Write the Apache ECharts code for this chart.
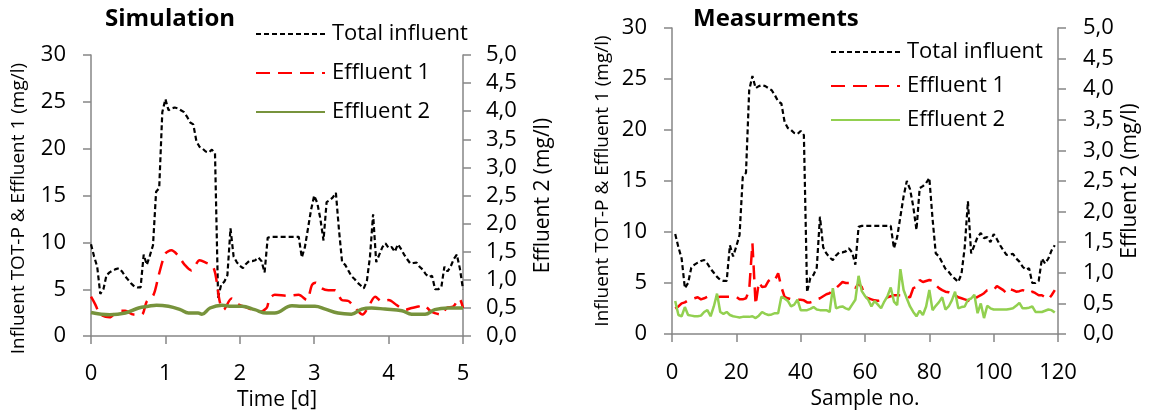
<!DOCTYPE html>
<html>
<head>
<meta charset="utf-8">
<script src="https://cdn.jsdelivr.net/npm/echarts@6/dist/echarts.min.js"></script>
<style>html,body{margin:0;padding:0;background:#fff;}#c{width:1150px;height:416px;}</style>
</head>
<body>
<div id="c"></div>
<script>
// Hourly total influent TOT-P (mg/l), samples 1..119 (shared by simulation input and measurements)
const influentMeas = [
 9.8, 8.5, 7.4, 4.5, 5.0, 6.5, 6.8, 7.0, 7.15, 7.25,
 6.9, 6.4, 6.0, 5.6, 5.3, 5.2, 5.2, 8.7, 7.6, 8.6,
 9.7, 15.4, 15.8, 23.9, 25.3, 24.1, 24.3, 24.4, 24.3, 24.1,
 23.9, 23.4, 22.8, 22.6, 20.8, 20.2, 20.0, 19.7, 19.6, 19.9,
 19.5, 4.1, 5.5, 5.8, 6.5, 11.5, 8.5, 7.9, 7.5, 7.25,
 7.7, 8.0, 8.0, 8.1, 8.4, 8.0, 6.8, 10.5, 10.6, 10.6,
 10.6, 10.6, 10.6, 10.6, 10.6, 10.6, 10.6, 10.6, 8.4, 9.5,
 11.5, 13.5, 15.0, 14.2, 12.5, 10.2, 14.3, 14.5, 14.8, 15.3,
 11.3, 7.9, 7.6, 7.0, 6.4, 6.1, 5.7, 5.4, 5.1, 5.9,
 8.5, 13.0, 7.9, 8.7, 9.5, 9.9, 9.4, 9.5, 9.0, 9.8,
 9.3, 8.7, 8.2, 7.75, 7.8, 7.85, 7.4, 7.1, 6.6, 6.3,
 6.45, 5.0, 5.0, 5.2, 7.4, 6.9, 7.4, 8.2, 8.7
];
// Simulation influent continues past the last sample
const simInfluentTail = [7.2, 5.0];

// Measured effluent 1 (mg/l), samples 1..119
const effluent1Meas = [
 2.5, 2.7, 3.0, 3.1, 3.3, 3.4, 3.5, 3.6, 3.4, 3.5,
 3.65, 3.6, 3.6, 3.6, 3.65, 3.65, 3.65, 3.65, 3.65, 3.65,
 3.4, 3.4, 3.5, 4.3, 8.9, 2.85, 5.1, 4.6, 4.65, 5.2,
 5.45, 5.3, 5.95, 4.6, 3.65, 3.5, 3.4, 3.4, 3.35, 3.35,
 3.3, 3.1, 3.1, 3.2, 3.4, 3.5, 3.7, 3.9, 4.0, 4.3,
 4.5, 4.8, 5.1, 5.0, 5.0, 4.8, 4.5, 4.95, 4.6, 3.65,
 3.5, 3.4, 3.3, 3.25, 3.3, 3.5, 3.6, 3.7, 3.8, 3.8,
 3.8, 3.7, 3.65, 3.6, 4.5, 4.6, 5.3, 5.1, 5.2, 5.3,
 5.2, 4.8, 4.5, 4.3, 4.15, 4.1, 4.0, 3.8, 3.6, 3.5,
 3.4, 3.3, 3.15, 3.4, 3.65, 3.8, 4.0, 4.3, 4.3, 4.3,
 4.7, 4.5, 4.3, 4.0, 4.4, 4.3, 4.15, 4.2, 4.3, 4.2,
 4.0, 4.15, 4.0, 3.8, 3.8, 3.6, 3.4, 3.8, 4.3
];
// Measured effluent 2 (mg/l), samples 1..119
const effluent2Meas = [
 0.54, 0.31, 0.29, 0.44, 0.31, 0.30, 0.29, 0.29, 0.30, 0.36,
 0.39, 0.29, 0.45, 0.66, 0.36, 0.33, 0.36, 0.31, 0.29, 0.28,
 0.27, 0.28, 0.28, 0.28, 0.29, 0.26, 0.30, 0.36, 0.33, 0.31,
 0.32, 0.34, 0.34, 0.61, 0.58, 0.54, 0.45, 0.48, 0.56, 0.39,
 0.39, 0.39, 0.41, 0.44, 0.40, 0.39, 0.39, 0.39, 0.36, 0.75,
 0.42, 0.44, 0.45, 0.42, 0.40, 0.48, 0.56, 0.95, 0.70, 0.62,
 0.56, 0.45, 0.54, 0.48, 0.42, 0.53, 0.62, 0.76, 0.53, 0.47,
 1.06, 0.72, 0.58, 0.45, 0.36, 0.29, 0.38, 0.31, 0.45, 0.72,
 0.39, 0.46, 0.52, 0.60, 0.40, 0.45, 0.55, 0.69, 0.42, 0.44,
 0.45, 0.56, 0.58, 0.64, 0.34, 0.50, 0.26, 0.46, 0.42, 0.40,
 0.40, 0.40, 0.40, 0.40, 0.41, 0.42, 0.46, 0.51, 0.42, 0.42,
 0.43, 0.45, 0.36, 0.36, 0.36, 0.38, 0.40, 0.39, 0.35
];

// Simulated effluent 1 (time in days, mg/l)
const simE1Time = [0, 0.05, 0.13, 0.25, 0.37, 0.46, 0.57, 0.68, 0.75, 0.84, 0.91, 1.0, 1.08, 1.17, 1.26, 1.35, 1.46, 1.53, 1.64, 1.69, 1.73, 1.78, 1.89, 1.98, 2.11, 2.25, 2.36, 2.4, 2.47, 2.65, 2.79, 2.9, 2.97, 3.02, 3.1, 3.19, 3.28, 3.37, 3.46, 3.55, 3.65, 3.73, 3.82, 3.91, 4.0, 4.11, 4.22, 4.31, 4.4, 4.47, 4.56, 4.62, 4.71, 4.78, 4.87, 4.95, 5.0];
const simE1Val  = [4.2, 3.5, 2.3, 2.0, 2.7, 2.7, 2.3, 2.3, 3.7, 4.4, 6.5, 8.8, 9.15, 8.6, 7.6, 7.0, 8.1, 7.9, 7.4, 5.8, 3.7, 2.8, 4.0, 3.4, 3.0, 2.6, 3.0, 4.0, 4.4, 4.3, 4.4, 3.85, 5.45, 5.7, 5.1, 4.9, 4.9, 3.85, 3.75, 3.0, 2.3, 3.15, 4.2, 3.7, 3.85, 3.3, 2.8, 3.0, 3.15, 3.3, 2.7, 2.45, 2.3, 3.0, 3.15, 4.0, 3.0];
// Simulated effluent 2 (time in days, mg/l)
const simE2Time = [0, 0.25, 0.46, 0.64, 0.77, 0.88, 1.04, 1.2, 1.31, 1.44, 1.49, 1.6, 1.76, 1.89, 2.03, 2.2, 2.36, 2.47, 2.7, 2.83, 3.01, 3.15, 3.32, 3.5, 3.64, 3.77, 3.95, 4.18, 4.31, 4.49, 4.62, 4.8, 5.0];
const simE2Val  = [0.42, 0.38, 0.41, 0.50, 0.53, 0.55, 0.53, 0.47, 0.41, 0.41, 0.39, 0.50, 0.55, 0.53, 0.53, 0.47, 0.41, 0.41, 0.54, 0.53, 0.53, 0.48, 0.41, 0.39, 0.48, 0.50, 0.48, 0.45, 0.39, 0.39, 0.47, 0.50, 0.50];

const seriesNames = ['Total influent', 'Effluent 1', 'Effluent 2'];
const MEAS = '#m';
const FONT = 'Open Sans';
const AX = '#868686';

const simInfluent = influentMeas.concat(simInfluentTail).map((v, i) => [i / 24, v]);
const measPairs = arr => arr.map((v, i) => [i + 1, v]);
const zip = (t, v) => t.map((x, i) => [x, v[i]]);

function yAxisL(grid, name, gap, pad) {
  return {
    type: 'value', gridIndex: grid, position: 'left', min: 0, max: 30, interval: 5,
    name: name, nameLocation: 'middle', nameGap: gap, nameRotate: 90,
    nameTextStyle: { fontSize: 19, color: '#000', fontFamily: FONT, padding: pad },
    axisLine: { show: true, lineStyle: { color: AX, width: 1.5 } },
    axisTick: { show: true, length: 8, lineStyle: { color: AX, width: 1.5 } },
    splitLine: { show: false },
    axisLabel: { fontSize: 22, color: '#000', fontFamily: FONT, margin: 25 }
  };
}
function yAxisR(grid, gap, margin) {
  return {
    type: 'value', gridIndex: grid, position: 'right', min: 0, max: 5, interval: 0.5,
    name: 'Effluent 2 (mg/l)', nameLocation: 'middle', nameGap: gap, nameRotate: 90,
    nameTextStyle: { fontSize: 21, color: '#000', fontFamily: FONT },
    axisLine: { show: true, lineStyle: { color: AX, width: 1.5 } },
    axisTick: { show: true, length: 8, lineStyle: { color: AX, width: 1.5 } },
    splitLine: { show: false },
    axisLabel: { fontSize: 22, color: '#000', fontFamily: FONT, margin: margin,
      formatter: v => v.toFixed(1).replace('.', ',') }
  };
}
function xAxis(grid, max, interval, name, margin) {
  return {
    type: 'value', gridIndex: grid, min: 0, max: max, interval: interval,
    name: name, nameLocation: 'middle', nameGap: 50,
    nameTextStyle: { fontSize: 21, color: '#000', fontFamily: FONT },
    axisLine: { show: true, onZero: false, lineStyle: { color: AX, width: 1.5 } },
    axisTick: { show: true, length: 8, lineStyle: { color: AX, width: 1.5 } },
    splitLine: { show: false },
    axisLabel: { fontSize: 22, color: '#000', fontFamily: FONT, margin: margin }
  };
}
const legendBase = {
  orient: 'vertical', itemWidth: 69, itemHeight: 14,
  itemStyle: { opacity: 0 },
  textStyle: { fontSize: 22, color: '#000', fontFamily: FONT, padding: [0, 0, 0, 2] },
  formatter: n => n.replace(MEAS, '')
};

const option = {
  animation: false,
  backgroundColor: '#fff',
  title: [
    { text: 'Simulation', left: 105, top: 7, padding: 0, textStyle: { fontSize: 24, fontWeight: 'bold', color: '#000', fontFamily: FONT } },
    { text: 'Measurments', left: 693, top: 7, padding: 0, textStyle: { fontSize: 24, fontWeight: 'bold', color: '#000', fontFamily: FONT } }
  ],
  legend: [
    Object.assign({}, legendBase, { left: 250, top: 18, itemGap: 17, data: seriesNames }),
    Object.assign({}, legendBase, { left: 825, top: 36, itemGap: 12, data: seriesNames.map(n => n + MEAS) })
  ],
  grid: [
    { left: 91, right: 687, top: 55, bottom: 78 },
    { left: 672, right: 92, top: 28, bottom: 82 }
  ],
  xAxis: [xAxis(0, 5, 1, 'Time [d]', 27), xAxis(1, 120, 20, 'Sample no.', 28)],
  yAxis: [
    yAxisL(0, 'Influent TOT-P & Effluent 1 (mg/l)', 63, [0, 26, 0, 0]),
    yAxisR(0, 70, 23),
    yAxisL(1, 'Influent TOT-P & Effluent 1 (mg/l)', 60, 0),
    yAxisR(1, 62, 25)
  ],
  series: [
    { name: seriesNames[0], type: 'line', xAxisIndex: 0, yAxisIndex: 0, symbol: 'none', data: simInfluent,
      lineStyle: { color: '#000', width: 2.2, type: [5, 3] }, itemStyle: { color: '#000' } },
    { name: seriesNames[1], type: 'line', xAxisIndex: 0, yAxisIndex: 0, symbol: 'none', smooth: 0.3, data: zip(simE1Time, simE1Val),
      lineStyle: { color: '#ff0000', width: 2.5, type: [14, 8] }, itemStyle: { color: '#ff0000' } },
    { name: seriesNames[2], type: 'line', xAxisIndex: 0, yAxisIndex: 1, symbol: 'none', smooth: 0.4, data: zip(simE2Time, simE2Val),
      lineStyle: { color: '#77933c', width: 3.5 }, itemStyle: { color: '#77933c' } },
    { name: seriesNames[0] + MEAS, type: 'line', xAxisIndex: 1, yAxisIndex: 2, symbol: 'none', data: measPairs(influentMeas),
      lineStyle: { color: '#000', width: 2.2, type: [5, 3] }, itemStyle: { color: '#000' } },
    { name: seriesNames[1] + MEAS, type: 'line', xAxisIndex: 1, yAxisIndex: 2, symbol: 'none', data: measPairs(effluent1Meas),
      lineStyle: { color: '#ff0000', width: 2.5, type: [14, 8] }, itemStyle: { color: '#ff0000' } },
    { name: seriesNames[2] + MEAS, type: 'line', xAxisIndex: 1, yAxisIndex: 3, symbol: 'none', data: measPairs(effluent2Meas),
      lineStyle: { color: '#92d050', width: 2.5 }, itemStyle: { color: '#92d050' } }
  ]
};
const chart = echarts.init(document.getElementById('c'), null, { renderer: 'canvas' });
chart.setOption(option);
</script>
</body>
</html>
